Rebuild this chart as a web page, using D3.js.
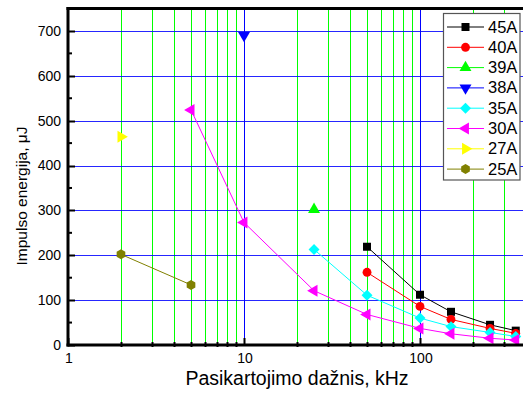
<!DOCTYPE html>
<html>
<head>
<meta charset="utf-8">
<script src="https://cdn.jsdelivr.net/npm/d3@7"></script>
<style>
html,body{margin:0;padding:0;background:#fff;}
svg{display:block;}
text{font-family:"Liberation Sans",Arial,sans-serif;fill:#000;}
</style>
</head>
<body>
<svg id="chart" width="523" height="398"></svg>
<script>
// ---- data ----
const seriesNames = ["45A","40A","39A","38A","35A","30A","27A","25A"];
const freq45 = [50,100,150,250,350];
const e45    = [219,112,74,45,32];
const freq40 = [50,100,150,250,350];
const e40    = [162,86,57,37,26];
const freq39 = [25];
const e39    = [302];
const freq38 = [10];
const e38    = [690];
const freq35 = [25,50,100,150,250,350];
const e35    = [213,111,60,41,28,19];
const freq30 = [5,10,25,50,100,150,250,350];
const e30    = [524,273,121,68,37,25,15,11];
const freq27 = [2];
const e27    = [464];
const freq25 = [2,5];
const e25    = [202,134];
const xTickLabels = [1,10,100];
const yTickValues = [0,100,200,300,400,500,600,700];

const seriesData = [
  {name:seriesNames[0], f:freq45, e:e45, color:"#000000", marker:"square"},
  {name:seriesNames[1], f:freq40, e:e40, color:"#ff0000", marker:"circle"},
  {name:seriesNames[2], f:freq39, e:e39, color:"#00ff00", marker:"triUp"},
  {name:seriesNames[3], f:freq38, e:e38, color:"#0000ff", marker:"triDown"},
  {name:seriesNames[4], f:freq35, e:e35, color:"#00ffff", marker:"diamond"},
  {name:seriesNames[5], f:freq30, e:e30, color:"#ff00ff", marker:"triLeft"},
  {name:seriesNames[6], f:freq27, e:e27, color:"#ffff00", marker:"triRight"},
  {name:seriesNames[7], f:freq25, e:e25, color:"#808000", marker:"hexagon"}
];

const svg = d3.select("#chart");
const L = 68, T = 8.5, B = 345, R = 523;
const decade = 176;
const x = d3.scaleLog().domain([1, 400]).range([L, L + decade*Math.log10(400)]);
const y = d3.scaleLinear().domain([0, 750]).range([B, T]);

const plot = svg.append("g");

// grid
const minorX = [];
[1,10,100].forEach(d => { for (let k=2;k<=9;k++) minorX.push(d*k); });
const minorXVis = minorX.filter(v => v <= 400);
plot.selectAll(".vg").data(minorXVis).enter().append("line")
  .attr("x1", d => Math.round(x(d))+0.5).attr("x2", d => Math.round(x(d))+0.5)
  .attr("y1", T).attr("y2", B)
  .attr("stroke", "#00ff00").attr("stroke-width", 1);
plot.selectAll(".vgm").data([10,100]).enter().append("line")
  .attr("x1", d => Math.round(x(d))+0.5).attr("x2", d => Math.round(x(d))+0.5)
  .attr("y1", T).attr("y2", B)
  .attr("stroke", "#0000ff").attr("stroke-width", 1);
plot.selectAll(".hg").data(yTickValues.filter(v => v>0)).enter().append("line")
  .attr("x1", L).attr("x2", R)
  .attr("y1", d => Math.round(y(d))+0.5).attr("y2", d => Math.round(y(d))+0.5)
  .attr("stroke", "#0000ff").attr("stroke-width", 1).attr("stroke-opacity", 0.85);

// ticks
const yMinor = d3.range(50, 751, 100);
plot.selectAll(".ymt").data(yMinor).enter().append("line")
  .attr("x1", L).attr("x2", L+4)
  .attr("y1", d => y(d)).attr("y2", d => y(d))
  .attr("stroke", "#000").attr("stroke-width", 2);
plot.selectAll(".yMt").data(yTickValues).enter().append("line")
  .attr("x1", L).attr("x2", L+7)
  .attr("y1", d => Math.round(y(d))+0.5).attr("y2", d => Math.round(y(d))+0.5)
  .attr("stroke", "#000").attr("stroke-width", 2);
plot.selectAll(".xmt").data(minorXVis).enter().append("line")
  .attr("x1", d => Math.round(x(d))+0.5).attr("x2", d => Math.round(x(d))+0.5)
  .attr("y1", B-3).attr("y2", B+2)
  .attr("stroke", "#000").attr("stroke-width", 2);
plot.selectAll(".xMt").data(xTickLabels).enter().append("line")
  .attr("x1", d => Math.round(x(d))+0.5).attr("x2", d => Math.round(x(d))+0.5)
  .attr("y1", B-7).attr("y2", B+1)
  .attr("stroke", "#000").attr("stroke-width", 2);

// markers
function markerPath(type) {
  const gen = d3.symbol();
  switch(type) {
    case "square": return {d: gen.type(d3.symbolSquare).size(64)(), rot:0};
    case "circle": return {d: gen.type(d3.symbolCircle).size(62)(), rot:0};
    case "triUp": return {d: gen.type(d3.symbolTriangle).size(62)(), rot:0};
    case "triDown": return {d: gen.type(d3.symbolTriangle).size(62)(), rot:180};
    case "triLeft": return {d: gen.type(d3.symbolTriangle).size(62)(), rot:-90};
    case "triRight": return {d: gen.type(d3.symbolTriangle).size(62)(), rot:90};
    case "diamond": return {d: gen.type(d3.symbolSquare).size(60)(), rot:45};
    case "hexagon": {
      const r = 5, pts = [];
      for (let i=0;i<6;i++){ const a = Math.PI/6 + i*Math.PI/3; pts.push([r*Math.cos(a), r*Math.sin(a)]); }
      return {d: "M" + pts.map(p=>p.join(",")).join("L") + "Z", rot:0};
    }
  }
}

const line = d3.line().x(d => x(d[0])).y(d => y(d[1]));
seriesData.forEach(s => {
  const pts = s.f.map((f,i) => [f, s.e[i]]);
  if (pts.length > 1) {
    plot.append("path").attr("d", line(pts)).attr("fill","none")
      .attr("stroke", s.color).attr("stroke-width", 1);
  }
});
seriesData.forEach(s => {
  const pts = s.f.map((f,i) => [f, s.e[i]]);
  const m = markerPath(s.marker);
  plot.selectAll(null).data(pts).enter().append("path")
    .attr("d", m.d)
    .attr("transform", d => `translate(${x(d[0])},${y(d[1])}) rotate(${m.rot})`)
    .attr("fill", s.color);
});

// axes lines
plot.append("line").attr("x1", L).attr("x2", L).attr("y1", T-1.5).attr("y2", B+1.5)
  .attr("stroke","#000").attr("stroke-width",3);
plot.append("line").attr("x1", L-1.5).attr("x2", R).attr("y1", B).attr("y2", B)
  .attr("stroke","#000").attr("stroke-width",3);
plot.append("line").attr("x1", L-1.5).attr("x2", R).attr("y1", T).attr("y2", T)
  .attr("stroke","#000").attr("stroke-width",3);

// tick labels
svg.selectAll(".yl").data(yTickValues).enter().append("text")
  .attr("x", 61).attr("y", d => y(d)).attr("dy","0.35em")
  .attr("text-anchor","end").style("font-size","14px").text(d => d);
svg.selectAll(".xl").data(xTickLabels).enter().append("text")
  .attr("x", d => x(d)+1).attr("y", 363)
  .attr("text-anchor","middle").style("font-size","14px").text(d => d);

// axis titles
svg.append("text").attr("x", 297).attr("y", 385).attr("text-anchor","middle")
  .style("font-size","19.5px").text("Pasikartojimo dažnis, kHz");
svg.append("text").attr("transform","translate(27,196) rotate(-90)")
  .attr("text-anchor","middle").style("font-size","15.5px").text("Impulso energija, μJ");

// legend
const lg = svg.append("g");
lg.append("rect").attr("x", 443.5).attr("y", 13.5).attr("width", 76.5).attr("height", 166.5)
  .attr("fill","#fff").attr("stroke","#555").attr("stroke-width",1.2);
seriesData.forEach((s,i) => {
  const cy = 27 + i*20.3;
  lg.append("line").attr("x1", 447).attr("x2", 484).attr("y1", cy).attr("y2", cy)
    .attr("stroke", s.color).attr("stroke-width", 1);
  const m = markerPath(s.marker);
  lg.append("path").attr("d", m.d).attr("transform", `translate(465.5,${cy}) rotate(${m.rot})`)
    .attr("fill", s.color);
  lg.append("text").attr("x", 488).attr("y", cy+5.5).style("font-size","16.5px").text(s.name);
});
</script>
</body>
</html>
